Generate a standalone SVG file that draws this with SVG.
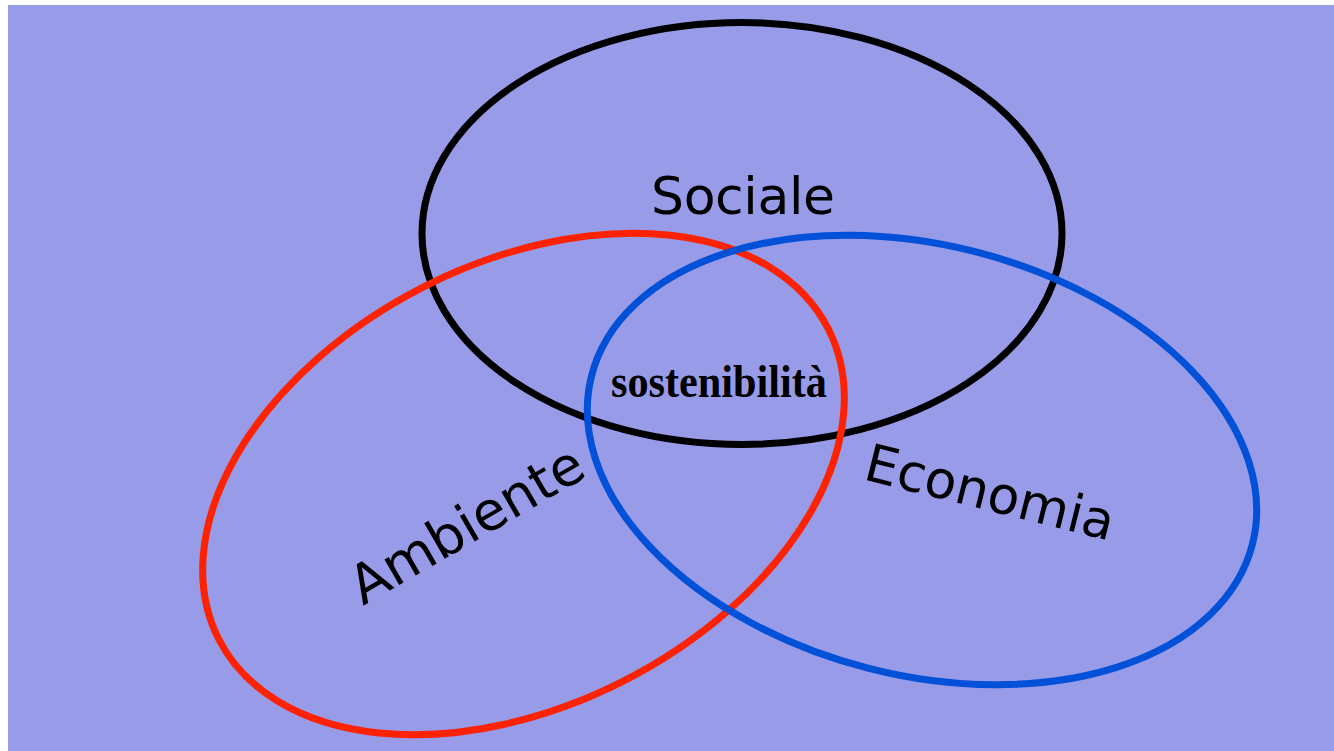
<svg xmlns="http://www.w3.org/2000/svg" width="1334" height="751" viewBox="0 0 1334 751">
  <style>
    .ring { fill: none; stroke-width: 7; }
    .label { font-family: "DejaVu Sans", Verdana, sans-serif; font-size: 52px; fill: #000; }
    .big { font-size: 54px; }
    .core { font-family: "Liberation Serif", "Times New Roman", serif; font-weight: bold; font-size: 47px; fill: #000; }
  </style>
  <rect x="0" y="0" width="1334" height="751" fill="#ffffff"/>
  <rect x="8" y="5" width="1326" height="746" fill="#979BE8"/>
  <g id="connectors"></g>
  <g id="sociale">
    <ellipse class="ring" cx="742" cy="233.5" rx="320" ry="211" stroke="#000000"/>
    <text class="label" x="743" y="214" text-anchor="middle" textLength="184">Sociale</text>
  </g>
  <g id="ambiente">
    <ellipse class="ring" cx="0" cy="0" rx="342" ry="221" stroke="#FF2200" transform="translate(523.5 484) rotate(-27)"/>
    <text class="label big" x="0" y="0" transform="translate(363 606) rotate(-30)">Ambiente</text>
  </g>
  <g id="economia">
    <ellipse class="ring" cx="0" cy="0" rx="341" ry="215" stroke="#0050D8" transform="translate(922 460) rotate(14.3)"/>
    <text class="label" x="0" y="0" transform="translate(862 479) rotate(14)">Economia</text>
  </g>
  <g id="sostenibilita">
    <text class="core" x="611" y="397" textLength="216" lengthAdjust="spacingAndGlyphs">sostenibilità</text>
  </g>
</svg>
